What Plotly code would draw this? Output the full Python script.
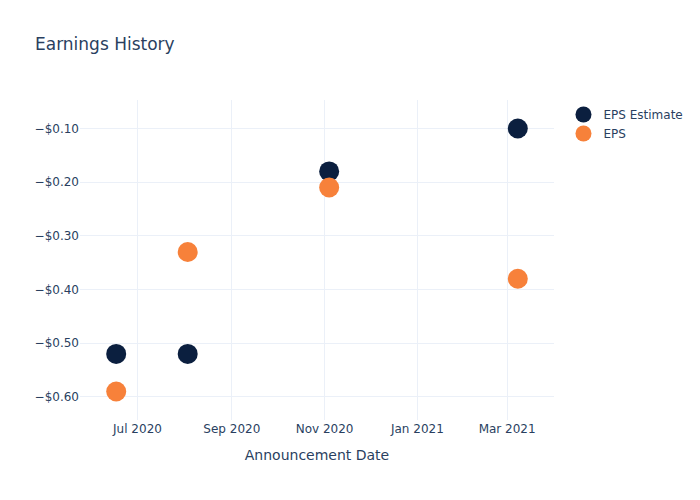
import plotly.graph_objects as go

dates = ["2020-06-17", "2020-08-03", "2020-11-04", "2021-03-08"]
eps_estimate = [-0.52, -0.52, -0.18, -0.10]
eps_actual = [-0.59, -0.33, -0.21, -0.38]

fig = go.Figure()
fig.add_trace(go.Scatter(x=dates, y=eps_estimate, mode="markers", name="EPS Estimate",
                         marker=dict(color="#0b1f3f", size=20)))
fig.add_trace(go.Scatter(x=dates, y=eps_actual, mode="markers", name="EPS",
                         marker=dict(color="#f7813a", size=20)))
fig.update_layout(
    template="plotly_white",
    width=700, height=500,
    font=dict(family="DejaVu Sans"),
    title=dict(text="Earnings History"),
    xaxis=dict(title="Announcement Date"),
    yaxis=dict(tickformat="$.2f"),
)
fig.write_html("out.html")
